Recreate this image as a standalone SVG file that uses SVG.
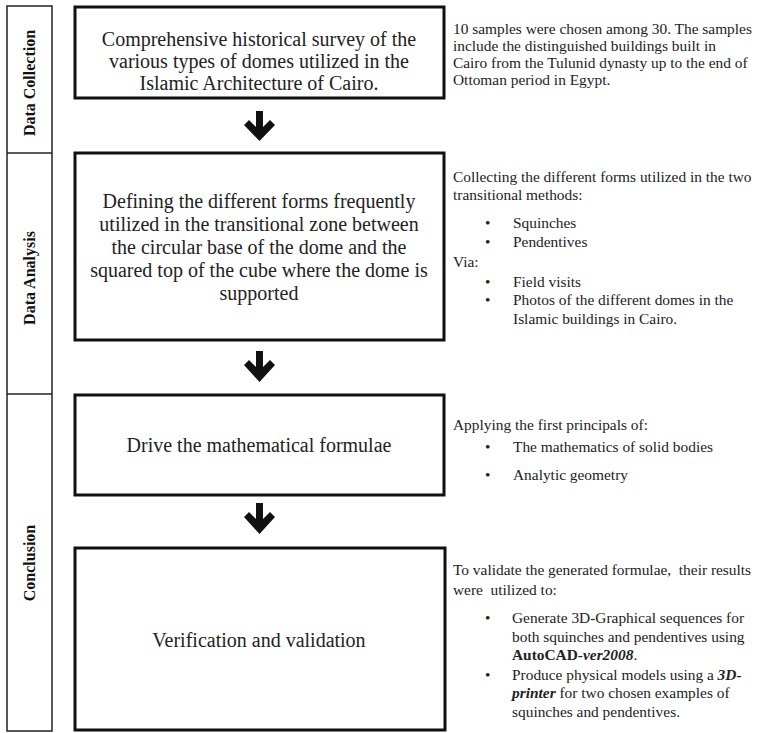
<svg xmlns="http://www.w3.org/2000/svg" width="783" height="733" viewBox="0 0 783 733">
<style>
.box{fill:#fff;stroke:#111;stroke-width:3}
.lane{fill:none;stroke:#222;stroke-width:1.5}
.bt{font-family:"Liberation Serif","Times New Roman",serif;font-size:20px;fill:#222;text-anchor:middle}
.side{font-family:"Liberation Serif","Times New Roman",serif;font-size:16px;font-weight:bold;fill:#111;text-anchor:middle}
.rt{font-family:"Liberation Serif","Times New Roman",serif;font-size:15.4px;fill:#222}
.arr{fill:#111}
</style>
<rect width="783" height="733" fill="#fff"/>
<g id="lanes">
<rect class="lane" x="7" y="6" width="45" height="725"/>
<line class="lane" x1="7" y1="153" x2="52" y2="153"/>
<line class="lane" x1="7" y1="394" x2="52" y2="394"/>
<text class="side" transform="translate(35,83) rotate(-90)">Data Collection</text>
<text class="side" transform="translate(35,278) rotate(-90)">Data Analysis</text>
<text class="side" transform="translate(35,563) rotate(-90)">Conclusion</text>
</g>
<g id="n1">
<rect class="box" x="75" y="7" width="369" height="91"/>
<text class="bt" x="259" y="46">Comprehensive historical survey of the</text>
<text class="bt" x="259" y="68">various types of domes utilized in the</text>
<text class="bt" x="259" y="90">Islamic Architecture of Cairo.</text>
</g>
<g id="n2">
<rect class="box" x="75" y="153" width="369" height="187"/>
<text class="bt" x="259" y="208">Defining the different forms frequently</text>
<text class="bt" x="259" y="231">utilized in the transitional zone between</text>
<text class="bt" x="259" y="254">the circular base of the dome and the</text>
<text class="bt" x="259" y="277">squared top of the cube where the dome is</text>
<text class="bt" x="259" y="300">supported</text>
</g>
<g id="n3">
<rect class="box" x="75" y="395" width="369" height="100"/>
<text class="bt" x="259" y="452">Drive the mathematical formulae</text>
</g>
<g id="n4">
<rect class="box" x="75" y="548" width="370" height="182"/>
<text class="bt" x="259" y="647">Verification and validation</text>
</g>
<g id="connectors">
<polygon class="arr" points="256,111 263,111 263,127 270,120 275,125 259.5,141 244,125 249,120 256,127"/>
<polygon class="arr" points="256,351 263,351 263,367 270,360 275,365 259.5,382 244,365 249,360 256,367"/>
<polygon class="arr" points="256,503 263,503 263,519 270,512 275,517 259.5,534 244,517 249,512 256,519"/>
</g>
<g id="notes">
<text class="rt" x="453" y="34">10 samples were chosen among 30. The samples</text>
<text class="rt" x="453" y="51">include the distinguished buildings built in</text>
<text class="rt" x="453" y="68">Cairo from the Tulunid dynasty up to the end of</text>
<text class="rt" x="453" y="85">Ottoman period in Egypt.</text>

<text class="rt" x="453" y="182">Collecting the different forms utilized in the two</text>
<text class="rt" x="453" y="200">transitional methods:</text>
<text class="rt" x="485" y="228">•</text><text class="rt" x="513" y="228">Squinches</text>
<text class="rt" x="485" y="247">•</text><text class="rt" x="513" y="247">Pendentives</text>
<text class="rt" x="453" y="267">Via:</text>
<text class="rt" x="485" y="287">•</text><text class="rt" x="513" y="287">Field visits</text>
<text class="rt" x="485" y="305">•</text><text class="rt" x="513" y="305">Photos of the different domes in the</text>
<text class="rt" x="513" y="324">Islamic buildings in Cairo.</text>

<text class="rt" x="453" y="430">Applying the first principals of:</text>
<text class="rt" x="485" y="452">•</text><text class="rt" x="513" y="452">The mathematics of solid bodies</text>
<text class="rt" x="485" y="480">•</text><text class="rt" x="513" y="480">Analytic geometry</text>

<text class="rt" x="453" y="575" xml:space="preserve">To validate the generated formulae,  their results</text>
<text class="rt" x="453" y="595" xml:space="preserve">were  utilized to:</text>
<text class="rt" x="485" y="623">•</text><text class="rt" x="512" y="623">Generate 3D-Graphical sequences for</text>
<text class="rt" x="512" y="642">both squinches and pendentives using</text>
<text class="rt" x="512" y="660"><tspan font-weight="bold">AutoCAD-</tspan><tspan font-weight="bold" font-style="italic">ver2008</tspan>.</text>
<text class="rt" x="485" y="680">•</text><text class="rt" x="512" y="680">Produce physical models using a <tspan font-weight="bold" font-style="italic">3D-</tspan></text>
<text class="rt" x="512" y="698"><tspan font-weight="bold" font-style="italic">printer</tspan> for two chosen examples of</text>
<text class="rt" x="512" y="717">squinches and pendentives.</text>
</g>
</svg>
